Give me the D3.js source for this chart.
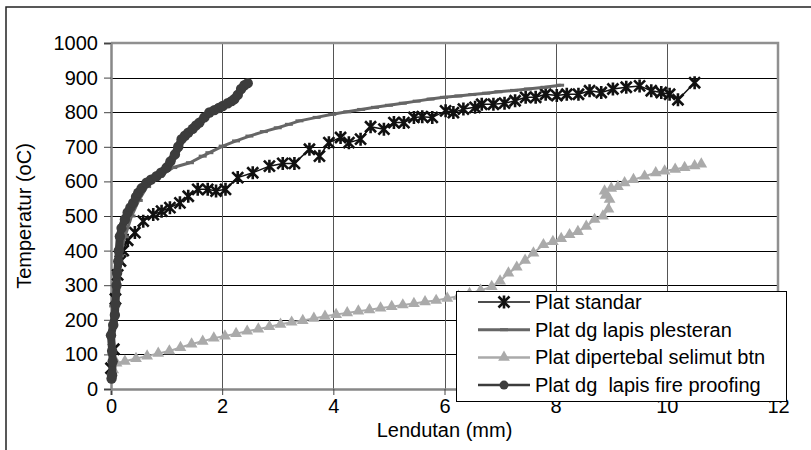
<!DOCTYPE html>
<html>
<head>
<meta charset="utf-8">
<script src="https://cdn.jsdelivr.net/npm/d3@7"></script>
<style>
  body { margin: 0; background: #fff; }
  text { font-family: "Liberation Sans", Arial, sans-serif; fill: #000; white-space: pre; }
</style>
</head>
<body>
<script>
// values: [lendutan (mm), temperatur (oC)]
const platStandar = [
  [0, 60], [0.05, 115], [0.08, 260], [0.12, 330], [0.17, 370], [0.22, 400],
  [0.3, 430], [0.43, 452], [0.58, 485], [0.76, 504], [0.91, 514], [1.06, 524],
  [1.24, 538], [1.39, 557], [1.56, 577], [1.74, 577], [1.89, 572], [2.06, 577],
  [2.28, 611], [2.55, 625], [2.85, 644], [3.09, 652], [3.3, 652], [3.57, 693],
  [3.75, 673], [3.92, 712], [4.13, 727], [4.28, 712], [4.49, 722], [4.67, 758],
  [4.91, 751], [5.09, 770], [5.27, 770], [5.45, 785], [5.6, 787], [5.78, 785],
  [6.02, 804], [6.16, 799], [6.34, 809], [6.55, 814], [6.67, 823], [6.88, 823],
  [7.08, 826], [7.27, 833], [7.46, 843], [7.64, 843], [7.82, 852], [8.02, 848],
  [8.2, 852], [8.41, 852], [8.61, 862], [8.82, 857], [9.03, 867], [9.27, 872],
  [9.51, 876], [9.72, 862], [9.9, 857], [10.05, 852], [10.2, 836], [10.5, 885]
];
const platPlesteran = [
  [0.02, 100], [0.04, 240], [0.1, 330], [0.16, 385], [0.25, 440], [0.37, 500],
  [0.5, 545], [0.65, 585], [0.88, 615], [1.12, 640], [1.42, 654], [1.65, 673],
  [1.77, 683], [2.01, 702], [2.25, 717], [2.49, 731], [2.75, 744], [3.0, 755],
  [3.2, 765], [3.39, 775], [3.7, 785], [3.98, 794], [4.25, 801], [4.5, 808],
  [4.75, 814], [5.0, 820], [5.25, 826], [5.5, 832], [5.75, 838], [5.99, 843],
  [6.25, 847], [6.5, 851], [6.75, 855], [6.97, 859], [7.25, 863], [7.5, 867],
  [7.8, 872], [8.08, 878]
];
const platSelimut = [
  [0.04, 55], [0.1, 75], [0.25, 80], [0.45, 88], [0.65, 95], [0.85, 103],
  [1.05, 110], [1.25, 120], [1.45, 130], [1.65, 138], [1.85, 147], [2.05, 153],
  [2.25, 160], [2.45, 167], [2.65, 173], [2.85, 180], [3.05, 187], [3.25, 193],
  [3.45, 198], [3.65, 204], [3.85, 210], [4.05, 215], [4.25, 220], [4.45, 225],
  [4.65, 229], [4.85, 234], [5.05, 238], [5.25, 243], [5.45, 247], [5.65, 252],
  [5.85, 256], [6.05, 262], [6.25, 268], [6.45, 276], [6.65, 285], [6.85, 296],
  [7.0, 312], [7.15, 335], [7.3, 352], [7.45, 372], [7.6, 393], [7.78, 417],
  [7.95, 426], [8.1, 435], [8.25, 446], [8.4, 455], [8.55, 470], [8.7, 490],
  [8.85, 500], [8.95, 520], [8.97, 548], [8.9, 560], [8.88, 572], [9.0, 580],
  [9.12, 585], [9.24, 596], [9.4, 605], [9.6, 615], [9.8, 625], [9.96, 630],
  [10.15, 635], [10.32, 640], [10.5, 645], [10.62, 650]
];
const platFireProofing = [
  [0.01, 30], [0.02, 40], [0.03, 80], [0.02, 110], [0.0, 155], [0.04, 185],
  [0.07, 214], [0.08, 245], [0.1, 300], [0.11, 335], [0.13, 369], [0.14, 400],
  [0.16, 441], [0.19, 465], [0.25, 490], [0.3, 510], [0.35, 525], [0.4, 538],
  [0.45, 555], [0.49, 567], [0.55, 580], [0.64, 596], [0.72, 605], [0.82, 615],
  [0.9, 625], [1.0, 640], [1.07, 658], [1.15, 678], [1.21, 700], [1.27, 722],
  [1.33, 732], [1.39, 741], [1.47, 752], [1.53, 762], [1.59, 770], [1.68, 785],
  [1.77, 799], [1.86, 806], [1.94, 812], [2.01, 818], [2.1, 826], [2.17, 832],
  [2.22, 838], [2.28, 850], [2.34, 867], [2.4, 878], [2.46, 884]
];
const seriesNames = [
  "Plat standar",
  "Plat dg lapis plesteran",
  "Plat dipertebal selimut btn",
  "Plat dg  lapis fire proofing"
];
const xTicks = [0, 2, 4, 6, 8, 10, 12];
const yTicks = [0, 100, 200, 300, 400, 500, 600, 700, 800, 900, 1000];

const width = 811, height = 450;
const plot = { left: 111, right: 778, top: 43, bottom: 389 };

const svg = d3.select("body").append("svg")
  .attr("width", width).attr("height", height);

// outer frame (right and bottom edges fall outside the picture)
svg.append("rect")
  .attr("x", 6).attr("y", 7)
  .attr("width", 830).attr("height", 470)
  .attr("fill", "none").attr("stroke", "#222").attr("stroke-width", 1.5);

const x = d3.scaleLinear().domain([0, 12]).range([plot.left, plot.right]);
const y = d3.scaleLinear().domain([0, 1000]).range([plot.bottom, plot.top]);

// grid
svg.append("g").selectAll("line")
  .data(yTicks.filter(d => d > 0 && d < 1000))
  .enter().append("line")
  .attr("x1", plot.left).attr("x2", plot.right)
  .attr("y1", d => Math.round(y(d)) + 0.5).attr("y2", d => Math.round(y(d)) + 0.5)
  .attr("stroke", "#000").attr("stroke-width", 1);

svg.append("g").selectAll("line")
  .data(xTicks.filter(d => d > 0 && d < 12))
  .enter().append("line")
  .attr("y1", plot.top).attr("y2", plot.bottom)
  .attr("x1", d => Math.round(x(d)) + 0.5).attr("x2", d => Math.round(x(d)) + 0.5)
  .attr("stroke", "#555").attr("stroke-width", 1);

// plot border (top/right)
svg.append("path")
  .attr("d", `M${plot.left},${plot.top}H${plot.right}V${plot.bottom}`)
  .attr("fill", "none").attr("stroke", "#909090").attr("stroke-width", 2.5);

// axes
const xAxis = svg.append("g")
  .attr("transform", `translate(0,${plot.bottom})`)
  .call(d3.axisBottom(x).tickValues(xTicks).tickSize(6).tickPadding(6).tickFormat(d3.format("d")));
const yAxis = svg.append("g")
  .attr("transform", `translate(${plot.left},0)`)
  .call(d3.axisLeft(y).tickValues(yTicks).tickSize(7).tickPadding(6).tickFormat(d3.format("d")));
[xAxis, yAxis].forEach(ax => {
  ax.select(".domain").attr("stroke", "#888").attr("stroke-width", 2.5);
  ax.selectAll(".tick line").attr("stroke", "#444");
  ax.selectAll(".tick text")
    .attr("font-family", "Liberation Sans, Arial, sans-serif")
    .attr("font-size", 20).attr("fill", "#000");
});
xAxis.selectAll(".tick text").attr("dy", "0.62em");

svg.append("text")
  .attr("x", (plot.left + plot.right) / 2).attr("y", 437)
  .attr("text-anchor", "middle").attr("font-size", 20)
  .text("Lendutan (mm)");
svg.append("text")
  .attr("transform", `translate(31,${(plot.top + plot.bottom) / 2}) rotate(-90)`)
  .attr("text-anchor", "middle").attr("font-size", 20)
  .text("Temperatur (oC)");

const line = d3.line().x(d => x(d[0])).y(d => y(d[1]));

const starPath = "M-5.5,-5.5L5.5,5.5M-5.5,5.5L5.5,-5.5M0,-6.5L0,6.5";
const triPath = d3.symbol().type(d3.symbolTriangle).size(60)();
const dashPath = "M-4,-1.5H4V1.5H-4Z";

const styles = [
  { data: platStandar, color: "#111", lw: 1.5, legendLw: 1.5, marker: "star" },
  { data: platPlesteran, color: "#666", lw: 3, legendLw: 3, marker: "dash" },
  { data: platSelimut, color: "#aaa", lw: 2, legendLw: 2.5, marker: "tri" },
  { data: platFireProofing, color: "#3c3c3c", lw: 8, legendLw: 2.5, marker: "dot" }
];

function drawMarker(sel, s, legendSize) {
  if (s.marker === "star") {
    sel.append("path").attr("d", starPath)
      .attr("fill", "none").attr("stroke", s.color).attr("stroke-width", 2.6);
  } else if (s.marker === "tri") {
    sel.append("path").attr("d", triPath).attr("fill", s.color);
  } else if (s.marker === "dash") {
    sel.append("path").attr("d", dashPath).attr("fill", s.color);
  } else {
    sel.append("circle").attr("r", legendSize ? 4.5 : 5.2).attr("fill", s.color);
  }
}

styles.forEach(s => {
  const g = svg.append("g");
  g.append("path").datum(s.data)
    .attr("d", line).attr("fill", "none")
    .attr("stroke", s.color).attr("stroke-width", s.lw)
    .attr("stroke-linejoin", "round").attr("stroke-linecap", "round");
  g.selectAll("g.m").data(s.data).enter().append("g")
    .attr("class", "m")
    .attr("transform", d => `translate(${x(d[0])},${y(d[1])})`)
    .each(function () { drawMarker(d3.select(this), s, false); });
});

// legend
const legend = svg.append("g");
legend.append("rect")
  .attr("x", 456.5).attr("y", 291.5).attr("width", 330).attr("height", 110)
  .attr("fill", "#fff").attr("stroke", "#000").attr("stroke-width", 1);
styles.forEach((s, i) => {
  const cy = 302 + i * 27.7;
  legend.append("line")
    .attr("x1", 478).attr("x2", 530).attr("y1", cy).attr("y2", cy)
    .attr("stroke", s.color).attr("stroke-width", s.legendLw);
  drawMarker(legend.append("g").attr("transform", `translate(504,${cy})`), s, true);
  legend.append("text")
    .attr("x", 535).attr("y", cy).attr("dy", "0.35em")
    .attr("font-size", 20).text(seriesNames[i]);
});
</script>
</body>
</html>
